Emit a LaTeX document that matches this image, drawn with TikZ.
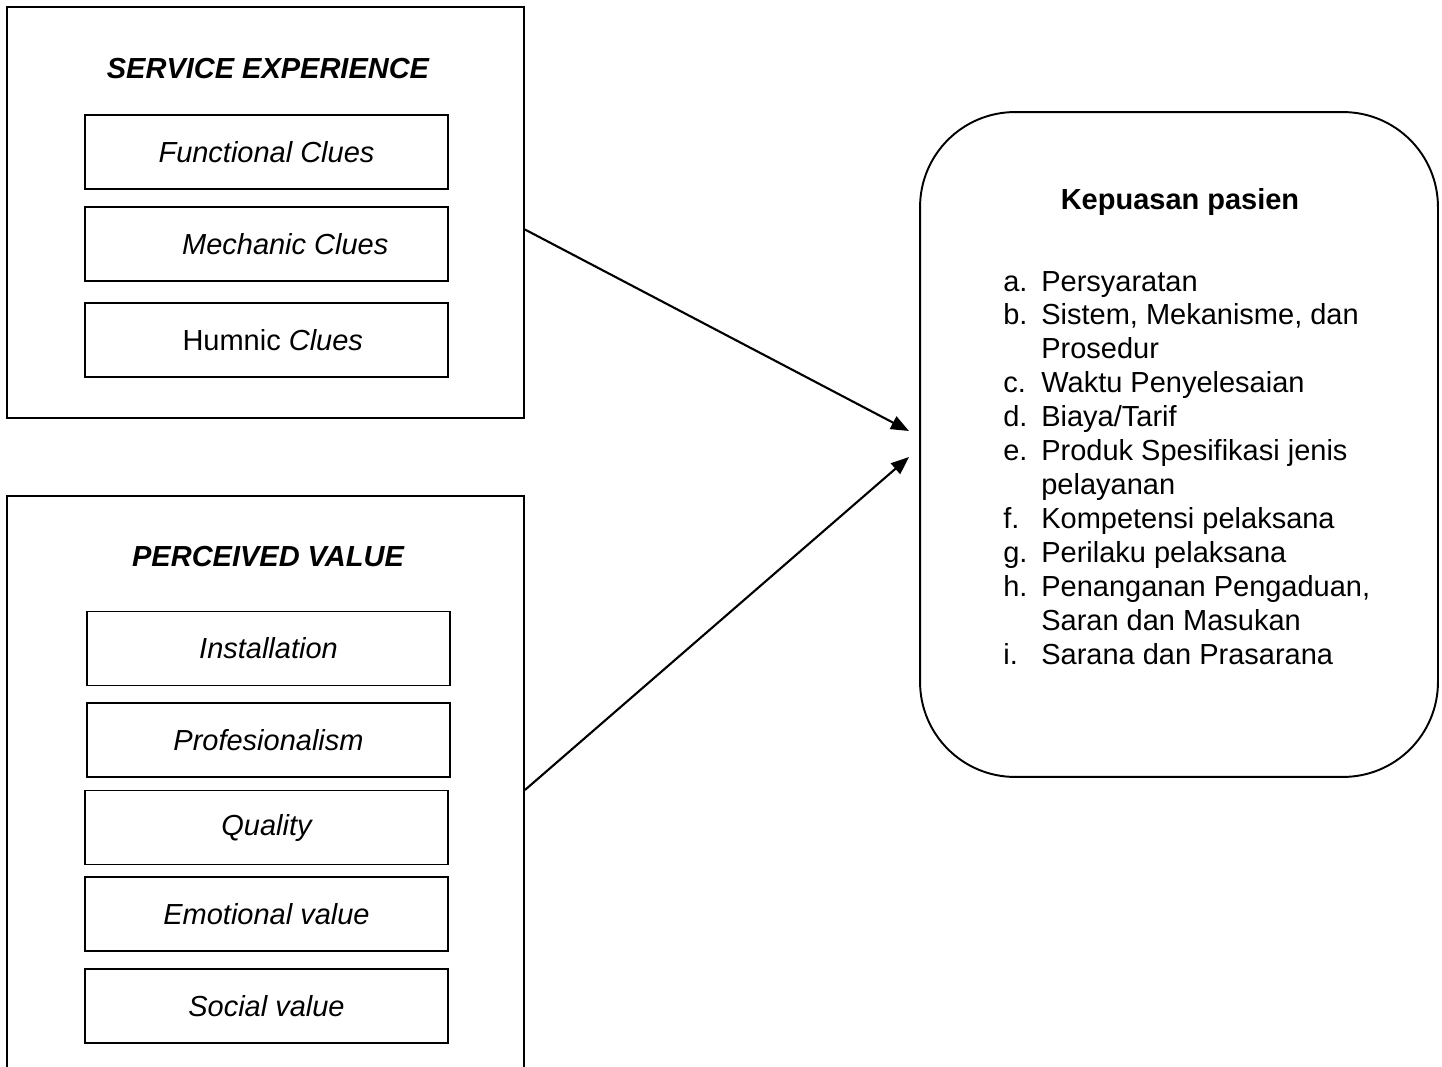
\documentclass[tikz,border=0pt]{standalone}
\usepackage{fontspec}
\setmainfont{Liberation Sans}
\usetikzlibrary{arrows.meta,positioning}
\definecolor{ink}{HTML}{000000}
\newcommand{\diagfont}{\fontsize{16.5}{19.3}\selectfont}
\tikzset{
  every node/.style={text=ink,font=\diagfont},
  group box/.style={draw=ink,line width=1.1pt,minimum width=10.34cm,inner sep=0pt},
  clue box/.style={
    draw=ink,
    line width=1.1pt,
    minimum width=7.26cm,
    minimum height=1.48cm,
    inner sep=0pt,
    font=\diagfont\itshape
  },
  group title/.style={font=\diagfont\bfseries\itshape},
  result box/.style={
    draw=ink,
    line width=1.1pt,
    rounded corners=1.9cm,
    minimum width=10.36cm,
    minimum height=13.3cm
  },
  flow arrow/.style={-{Triangle[length=3.6mm,width=2.8mm]},line width=1.2pt,draw=ink},
}

\begin{document}
\begin{tikzpicture}[x=0.02cm,y=-0.02cm]
  \clip (0,0) rectangle (1442,1067);

  % service experience
  \node[group box,minimum height=8.22cm] (service) at (265.5,212.5) {};
  \node[group title] (serviceTitle) at (268,69) {SERVICE EXPERIENCE};
  \node[clue box] (functional) at (266.5,152) {Functional Clues};
  \node[clue box] (mechanic) at (266.5,244) {\hspace*{0.75cm}Mechanic Clues};
  \node[clue box] (humnic) at (266.5,340) {\hspace*{0.25cm}{\upshape Humnic} Clues};

  % perceived value
  \node[group box,minimum height=11.88cm] (perceived) at (265.5,793) {};
  \node[group title] (perceivedTitle) at (268,557) {PERCEIVED VALUE};
  \node[clue box] (installation) at (268.5,648.5) {Installation};
  \node[clue box] (profesional) at (268.5,740) {Profesionalism};
  \node[clue box] (quality) at (266.5,827.5) {Quality};
  \node[clue box] (emotional) at (266.5,914) {Emotional value};
  \node[clue box] (social) at (266.5,1006) {Social value};

  % kepuasan pasien
  \node[result box] (kepuasan) at (1179,444.5) {};
  \node[font=\diagfont\bfseries] (kepuasanTitle) at (1180,202) {Kepuasan pasien};
  \node[anchor=north west,inner sep=0pt] (indikator) at (1003,267) {%
    \begin{tabular}{@{}p{0.76cm}@{}l@{}}
      a. & Persyaratan\\
      b. & Sistem, Mekanisme, dan\\
         & Prosedur\\
      c. & Waktu Penyelesaian\\
      d. & Biaya/Tarif\\
      e. & Produk Spesifikasi jenis\\
         & pelayanan\\
      f. & Kompetensi pelaksana\\
      g. & Perilaku pelaksana\\
      h. & Penanganan Pengaduan,\\
         & Saran dan Masukan\\
      i. & Sarana dan Prasarana
    \end{tabular}};

  \coordinate (inTop) at (909,431);
  \coordinate (inBottom) at (909,457);
  \draw[flow arrow] ([yshift=-0.34cm]service.east) -- (inTop);
  \draw[flow arrow] ([yshift=0.06cm]perceived.east) -- (inBottom);

\end{tikzpicture}
\end{document}
